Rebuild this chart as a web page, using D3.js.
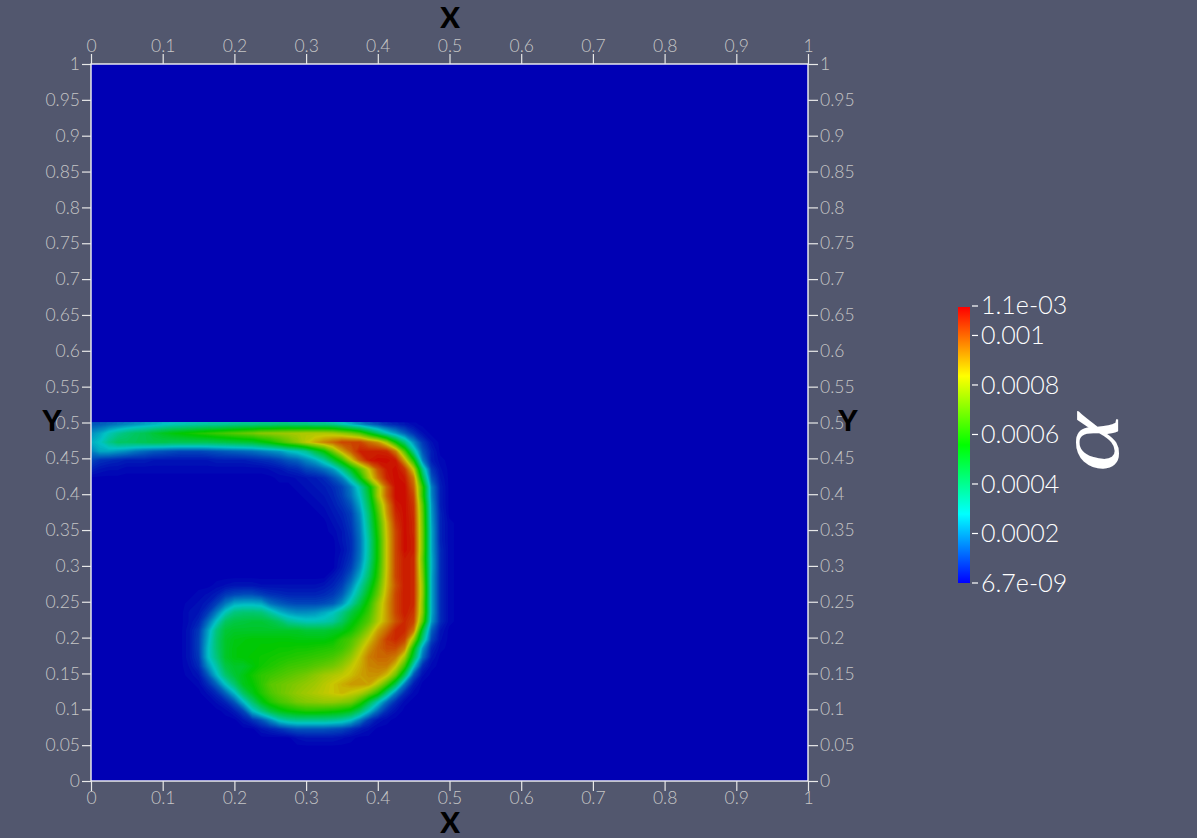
<!DOCTYPE html>
<html><head><meta charset="utf-8">
<script src="https://cdn.jsdelivr.net/npm/d3@7"></script>
<style>
html,body{margin:0;padding:0;background:#52576e;overflow:hidden}
svg{display:block}
.axis text{font-family:Lato,sans-serif;font-weight:300;font-size:17.5px;fill:#c6c6c6}
.axis line{stroke:#e8e8e8;stroke-width:1.2}
.axis path{display:none}
.title{font-family:Lato,sans-serif;font-weight:900;font-size:29px;fill:#000}
.leg{font-family:Lato,sans-serif;font-weight:300;font-size:25px;fill:#fff}
</style></head><body>
<svg id="c" width="1197" height="838"></svg>
<script>
// ---------- tick labels ----------
const xTicks=[0,0.1,0.2,0.3,0.4,0.5,0.6,0.7,0.8,0.9,1];
const yTicks=[0,0.05,0.1,0.15,0.2,0.25,0.3,0.35,0.4,0.45,0.5,0.55,0.6,0.65,0.7,0.75,0.8,0.85,0.9,0.95,1];
const legendTicks=[0.0002,0.0004,0.0006,0.0008,0.001];
const legendMin=6.7e-9, legendMax=1.115e-3;
const legendEndLabels=["6.7e-09","1.1e-03"];
// ---------- field alpha, in units of 1e-5, sampled every 1/80 from y≈0.5 downward ----------
const rowStartCol=[0,0,0,0,0,0,21,23,24,25,26,27,27,28,28,28,28,27,14,12,11,11,11,11,11,11,11,11,11,12,13,14,15,17,19,23];
const rowValues=[
[12,13,15,17,19,21,23,25,27,29,30,31,32,33,33,34,35,36,36,37,37,38,38,37,37,36,36,34,30,25,20,15,11,7,5,3,1],
[20,24,30,35,39,42,44,48,51,54,56,58,60,62,64,66,68,70,72,75,76,77,78,79,80,80,80,79,76,72,66,54,42,30,22,14,7,2],
[24,28,36,42,42,43,44,45,45,44,44,44,44,44,45,46,47,48,49,53,57,63,69,75,82,88,93,97,102,102,102,96,91,78,56,38,20,8,2],
[18,24,24,22,20,17,15,13,12,11,10,10,10,11,12,13,14,15,16,18,20,22,27,30,35,46,56,72,88,98,107,107,107,106,94,66,34,12,4],
[10,7,6,5,4,4,4,3,3,3,3,3,3,3,4,4,4,4,5,6,7,9,12,14,19,24,33,47,62,82,98,108,110,110,108,88,58,18,4,1],
[5,3,2,2,1,1,1,1,1,1,1,1,1,1,1,1,1,1,1,1,2,3,5,6,10,12,16,22,36,52,68,84,100,108,110,104,82,36,8,2],
[1,1,2,3,4,6,11,18,34,55,78,95,107,110,108,94,48,12,3],
[1,2,3,4,6,10,18,32,52,78,98,110,110,98,62,18,4],
[1,2,3,5,9,16,28,48,78,98,110,110,102,62,19,4],
[1,2,4,7,12,24,44,70,92,108,110,104,68,21,4],
[1,3,5,9,20,40,65,90,106,110,105,70,22,5],
[2,4,8,18,38,62,86,104,110,106,71,23,5,1],
[1,3,7,17,36,60,85,102,110,106,72,24,5,1],
[3,6,16,34,58,84,102,110,107,72,24,5,1],
[2,6,16,34,58,84,102,110,107,72,24,6,1],
[3,7,17,35,58,84,102,108,106,70,25,6,1],
[4,9,20,38,60,84,102,108,106,72,25,6,1],
[3,6,13,25,42,62,85,102,108,106,74,24,6,1],
[1,2,3,3,3,2,2,2,2,2,2,2,3,5,9,18,32,48,66,86,100,108,106,76,24,6,1],
[1,2,4,8,10,11,11,9,7,6,5,5,5,5,6,8,13,24,38,54,70,88,102,108,106,76,24,6,1],
[1,2,4,9,17,24,25,25,24,16,13,11,10,10,10,11,13,20,32,46,60,76,90,102,108,106,74,24,6,1],
[2,3,8,18,30,38,40,40,39,33,26,22,20,20,21,24,28,36,46,54,64,78,90,102,108,104,74,24,6,1],
[2,5,15,28,42,46,47,48,48,46,42,35,32,30,30,31,34,42,52,60,68,80,90,100,106,102,68,22,6,1],
[3,8,22,38,48,50,50,50,50,50,50,50,50,48,48,48,50,52,58,66,76,89,97,106,106,95,48,14,3],
[3,9,24,40,50,53,54,55,55,55,55,55,54,54,54,54,56,62,66,74,84,94,103,106,102,76,38,10,2],
[3,9,26,40,50,54,55,55,56,56,57,57,58,58,59,60,61,64,70,80,90,97,101,101,93,56,22,5,1],
[3,8,26,38,50,54,55,56,57,58,59,60,61,62,63,64,66,70,76,85,94,97,97,94,78,46,16,3],
[2,6,20,32,46,50,50,54,58,60,62,64,65,66,68,70,72,76,82,87,93,94,94,84,63,28,6,1],
[1,3,12,26,40,48,53,58,62,64,66,68,70,72,75,78,80,82,85,89,91,91,85,70,42,12,2],
[1,6,14,28,40,52,56,62,68,70,72,74,76,78,81,84,87,90,90,89,80,66,44,17,4],
[2,6,14,26,42,52,60,66,70,73,76,78,80,82,84,86,83,80,72,60,38,18,6,1],
[2,5,12,26,40,52,60,65,68,72,74,75,76,76,74,72,62,46,30,15,6,1],
[1,4,10,26,36,46,52,56,58,60,60,59,58,56,52,42,28,15,6,2],
[3,7,12,20,30,34,36,36,36,36,35,33,28,18,8,3,1],
[3,5,7,10,12,12,12,12,11,10,7,4,2],
[2,3,3,3,3,2,1]
];
const gridCols=41, gridRows=37, gridStep=1/80, gridTopY=0.4975;
const scaleUnit=1e-5;

const flat=new Array(gridCols*gridRows).fill(0);
rowValues.forEach((r,j)=>r.forEach((v,k)=>{flat[j*gridCols+rowStartCol[j]+k]=v*scaleUnit;}));

const svg=d3.select("#c");
const L=91,R=808,T=64,B=781;
const xScale=d3.scaleLinear().domain([0,1]).range([L,R]);
const yScale=d3.scaleLinear().domain([0,1]).range([B,T]);
const rampStops=[0,.25,.5,.75,1].map(t=>legendMin+t*(legendMax-legendMin));
const fieldColor=d3.scaleLinear().domain(rampStops).range(["#0000b4","#00c4c4","#00c800","#c8c800","#cc0000"]).clamp(true);
const barColor=d3.scaleLinear().domain(rampStops).range(["#0000ff","#00ffff","#00ff00","#ffff00","#ff0000"]).clamp(true);

const defs=svg.append("defs");
defs.append("clipPath").attr("id","plot").append("rect")
  .attr("x",L).attr("y",yScale(0.5)).attr("width",R-L).attr("height",B-yScale(0.5));

svg.append("rect").attr("x",L).attr("y",T).attr("width",R-L).attr("height",B-T).attr("fill",fieldColor(legendMin));

const levels=d3.range(0.5,111.5,1.25).map(v=>v*scaleUnit);
const contours=d3.contours().size([gridCols,gridRows]).smooth(true).thresholds(levels)(flat);
const proj=d3.geoTransform({point(x,y){
  this.stream.point(xScale((x-0.5)*gridStep),yScale(gridTopY-(y-0.5)*gridStep));
}});
const path=d3.geoPath(proj);
svg.append("g").attr("clip-path","url(#plot)").selectAll("path").data(contours).join("path")
  .attr("d",path).attr("fill",d=>fieldColor(d.value+0.6*scaleUnit)).attr("stroke","none");

// frame
svg.append("rect").attr("x",L).attr("y",T).attr("width",R-L).attr("height",B-T)
  .attr("fill","none").attr("stroke","#f4f4f4").attr("stroke-width",1.4);

const fmt=d=>String(d);
svg.append("g").attr("class","axis").attr("transform",`translate(0,${T})`)
  .call(d3.axisTop(xScale).tickValues(xTicks).tickFormat(fmt).tickSize(10).tickPadding(2));
svg.append("g").attr("class","axis").attr("transform",`translate(0,${B})`)
  .call(d3.axisBottom(xScale).tickValues(xTicks).tickFormat(fmt).tickSize(10).tickPadding(1));
svg.append("g").attr("class","axis").attr("transform",`translate(${L},0)`)
  .call(d3.axisLeft(yScale).tickValues(yTicks).tickFormat(fmt).tickSize(9).tickPadding(2));
svg.append("g").attr("class","axis").attr("transform",`translate(${R},0)`)
  .call(d3.axisRight(yScale).tickValues(yTicks).tickFormat(fmt).tickSize(10).tickPadding(2));

[["X",450,28],["X",450,833],["Y",52,431],["Y",848,431]].forEach(([t,x,y])=>{
  svg.append("text").attr("class","title").attr("x",x).attr("y",y).attr("text-anchor","middle").text(t);
});

// colour legend
const legY=d3.scaleLinear().domain([legendMin,legendMax]).range([583,307]);
const grad=defs.append("linearGradient").attr("id","ramp").attr("x1",0).attr("y1",1).attr("x2",0).attr("y2",0);
rampStops.forEach((v,i)=>grad.append("stop").attr("offset",i/4).attr("stop-color",barColor(v)));
svg.append("rect").attr("x",958).attr("y",legY(legendMax)).attr("width",12).attr("height",legY(legendMin)-legY(legendMax)).attr("fill","url(#ramp)");
const legItems=legendTicks.map(v=>({v,t:String(v),off:0})).concat([
  {v:legendMin,t:legendEndLabels[0],off:0},{v:legendMax,t:legendEndLabels[1],off:-2}]);
const lg=svg.append("g").selectAll("g").data(legItems).join("g");
lg.append("line").attr("x1",972).attr("x2",978).attr("y1",d=>legY(d.v)+(d.off?-1:0)).attr("y2",d=>legY(d.v)+(d.off?-1:0)).attr("stroke","#fff").attr("stroke-width",1.2);
lg.append("text").attr("class","leg").attr("x",981).attr("y",d=>legY(d.v)+d.off).attr("dy","0.36em").text(d=>d.t);
svg.append("text").attr("transform","translate(1118,472) rotate(-90) scale(1.28,1)")
  .attr("font-family","Liberation Serif").attr("font-style","italic").attr("font-size",88).attr("fill","#fff").text("α");
</script></body></html>
